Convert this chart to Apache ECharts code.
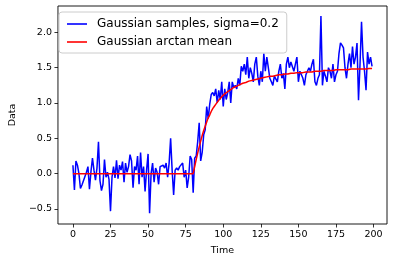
<!DOCTYPE html>
<html>
<head>
<meta charset="utf-8">
<script src="https://cdn.jsdelivr.net/npm/echarts@6/dist/echarts.min.js"></script>
<style>html,body{margin:0;padding:0;background:#fff;}#c{width:394px;height:262px;}</style>
</head>
<body>
<div id="c"></div>
<script>
var samples = [
 0.12,-0.23,0.18,0.12,0.00,-0.21,-0.16,-0.10,-0.04,0.02,
 0.10,-0.22,0.03,0.22,0.05,-0.09,0.08,0.45,-0.10,-0.24,
 -0.15,0.20,-0.05,0.02,-0.08,-0.53,-0.05,0.10,-0.06,0.19,
 -0.07,0.12,0.05,0.17,-0.12,0.15,0.02,0.10,0.27,0.18,
 -0.20,0.10,0.05,0.25,-0.15,0.30,-0.05,0.10,-0.25,0.05,
 0.28,-0.56,0.00,0.15,-0.12,0.08,0.02,-0.15,0.10,0.12,
 0.12,0.08,0.15,-0.05,0.15,0.50,0.05,-0.30,0.05,0.08,
 0.05,0.10,0.12,0.15,-0.05,0.05,-0.20,-0.05,0.25,0.20,
 -0.27,0.22,0.25,0.45,0.72,0.18,0.30,0.55,0.62,0.95,
 0.78,0.98,1.12,1.15,1.10,1.20,1.00,1.18,1.05,1.30,
 0.95,1.20,1.05,1.15,1.30,1.00,1.30,1.22,1.25,1.20,
 1.35,1.25,1.52,1.45,1.55,1.40,1.65,1.35,1.50,1.42,
 1.30,1.55,1.65,1.38,1.25,1.45,1.30,1.70,1.45,1.65,
 1.50,1.35,1.30,1.25,1.38,1.40,1.30,1.45,1.55,1.35,
 1.42,1.20,1.55,1.65,1.50,1.58,1.60,1.45,1.55,1.65,
 1.30,1.45,1.40,1.35,1.25,1.40,1.38,1.50,1.45,1.55,
 1.62,1.30,1.25,1.35,1.40,2.23,1.25,1.45,1.38,1.30,
 1.50,1.45,1.35,1.55,1.30,1.40,1.45,1.70,1.85,1.82,
 1.78,1.50,1.35,1.55,1.70,1.50,1.80,1.55,1.65,1.85,
 1.04,1.55,2.15,1.65,1.45,1.18,1.72,1.55,1.65,1.52
];
var arctanMean = [
 0,0,0,0,0,0,0,0,0,0,
 0,0,0,0,0,0,0,0,0,0,
 0,0,0,0,0,0,0,0,0,0,
 0,0,0,0,0,0,0,0,0,0,
 0,0,0,0,0,0,0,0,0,0,
 0,0,0,0,0,0,0,0,0,0,
 0,0,0,0,0,0,0,0,0,0,
 0,0,0,0,0,0,0,0,0,0,
 0.00,0.10,0.20,0.29,0.38,0.46,0.54,0.61,0.67,0.73,
 0.79,0.83,0.88,0.92,0.95,0.98,1.01,1.04,1.06,1.09,
 1.11,1.13,1.14,1.16,1.18,1.19,1.20,1.22,1.23,1.24,
 1.25,1.26,1.27,1.28,1.28,1.29,1.30,1.31,1.31,1.32,
 1.33,1.33,1.34,1.34,1.35,1.35,1.36,1.36,1.37,1.37,
 1.37,1.38,1.38,1.38,1.39,1.39,1.39,1.40,1.40,1.40,
 1.41,1.41,1.41,1.41,1.42,1.42,1.42,1.42,1.42,1.43,
 1.43,1.43,1.43,1.43,1.44,1.44,1.44,1.44,1.44,1.44,
 1.45,1.45,1.45,1.45,1.45,1.45,1.46,1.46,1.46,1.46,
 1.46,1.46,1.46,1.46,1.46,1.47,1.47,1.47,1.47,1.47,
 1.47,1.47,1.47,1.47,1.47,1.48,1.48,1.48,1.48,1.48,
 1.48,1.48,1.48,1.48,1.48,1.48,1.49,1.49,1.49,1.49
];
var xTicks = [0,25,50,75,100,125,150,175,200];
var yTicks = [-0.5,0,0.5,1.0,1.5,2.0];
var seriesNames = ['Gaussian samples, sigma=0.2','Gaussian arctan mean'];
var xTitle = 'Time';
var yTitle = 'Data';

function pairs(arr){ return arr.map(function(v,i){ return [i,v]; }); }
var FONT = 'DejaVu Sans';
var chart = echarts.init(document.getElementById('c'), null, {renderer:'canvas'});
chart.setOption({
  animation:false,
  backgroundColor:'#ffffff',
  textStyle:{fontFamily:FONT},
  grid:{left:53,top:6,right:7,bottom:38,show:true,borderColor:'#000',borderWidth:0.9,backgroundColor:'transparent'},
  legend:{
    orient:'vertical',left:59,top:12,
    padding:[5,8,4,8],itemGap:4,itemWidth:20,itemHeight:1.6,icon:'rect',
    backgroundColor:'rgba(255,255,255,0.8)',borderColor:'#cccccc',borderWidth:1,borderRadius:3,
    textStyle:{fontFamily:FONT,fontSize:12,color:'#000',lineHeight:14,padding:[0,0,0,5]},
    data:seriesNames
  },
  xAxis:{
    type:'value',min:-9.95,max:208.95,
    name:xTitle,nameLocation:'middle',nameGap:22,
    nameTextStyle:{fontFamily:FONT,fontSize:9.5,color:'#000'},
    axisLine:{show:false,onZero:false},
    splitLine:{show:false},
    axisTick:{show:true,length:3.5,customValues:xTicks,lineStyle:{color:'#000',width:0.8}},
    axisLabel:{customValues:xTicks,margin:6,fontFamily:FONT,fontSize:9.5,color:'#000'}
  },
  yAxis:{
    type:'value',min:-0.712,max:2.373,
    name:yTitle,nameLocation:'middle',nameGap:37,
    nameTextStyle:{fontFamily:FONT,fontSize:9.5,color:'#000'},
    axisLine:{show:false,onZero:false},
    splitLine:{show:false},
    axisTick:{show:true,length:3.5,customValues:yTicks,lineStyle:{color:'#000',width:0.8}},
    axisLabel:{customValues:yTicks,margin:6,fontFamily:FONT,fontSize:9.5,color:'#000',
      formatter:function(v){ var s=v.toFixed(1); return s.replace('-','\u2212'); }}
  },
  series:[
    {name:seriesNames[0],type:'line',data:pairs(samples),showSymbol:false,symbol:'none',
     lineStyle:{color:'#0000ff',width:1.5},itemStyle:{color:'#0000ff'},z:2},
    {name:seriesNames[1],type:'line',data:pairs(arctanMean),showSymbol:false,symbol:'none',
     lineStyle:{color:'#ff0000',width:1.5},itemStyle:{color:'#ff0000'},z:3}
  ]
});
</script>
</body>
</html>
